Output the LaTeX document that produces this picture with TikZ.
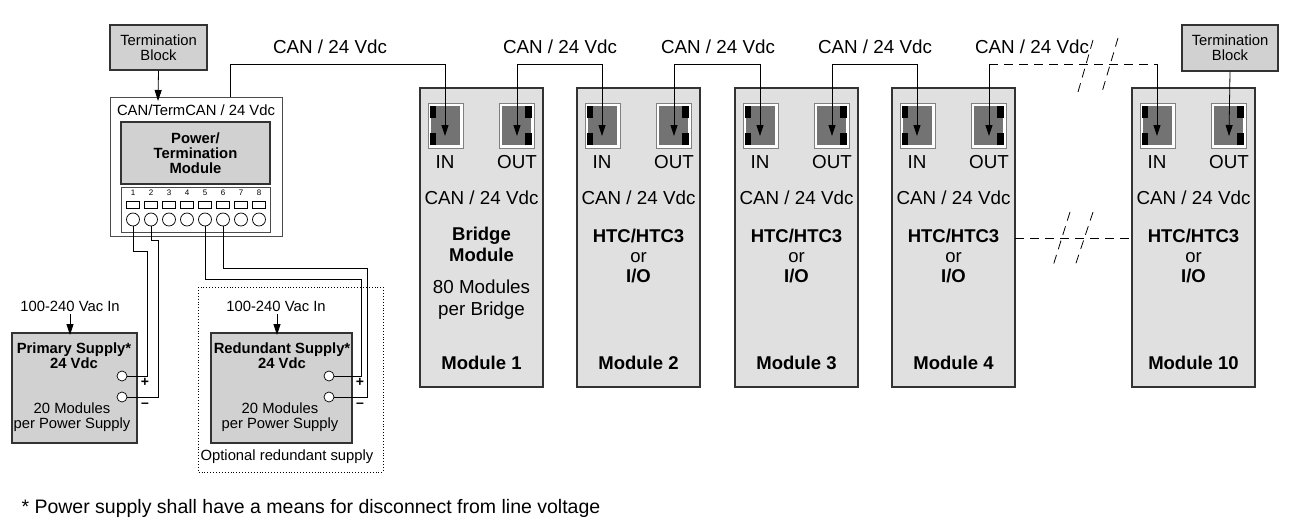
\documentclass[tikz,border=0pt]{standalone}
\usepackage{fontspec}
\setmainfont{Liberation Sans}
\usetikzlibrary{arrows.meta}
\begin{document}
\begin{tikzpicture}[x=1pt,y=-1pt,
  box/.style={draw=black!80,line width=1.2pt,fill=black!18},
  mod/.style={draw=black!80,line width=1.2pt,fill=black!12},
  wire/.style={line width=0.8pt},
  arr/.style={line width=0.8pt,-{Triangle[width=7pt,length=11pt]}},
  big/.style={font=\fontsize{18.8}{22}\selectfont},
  bbig/.style={font=\fontsize{18.5}{22}\bfseries\selectfont,align=center},
  sm/.style={font=\fontsize{14.8}{18}\selectfont,align=center},
  bsm/.style={font=\fontsize{14.8}{18}\bfseries\selectfont,align=center},
  dsh/.style={wire,dash pattern=on 9pt off 6pt}]
\useasboundingbox (0,0) rectangle (1291,525);
% Termination block left
\node[box,minimum width=97,minimum height=45,sm,inner sep=0] (tb1) at (158.5,47.5) {Termination\\[-3pt]Block};
% power module
\draw[line width=1pt,black!70] (110,97) rectangle (282,236);
\node[font=\fontsize{14.8}{16}\selectfont] (ptl) at (196,110) {CAN/TermCAN / 24 Vdc};
\node[box,minimum width=149,minimum height=62,bsm,inner sep=0] (pm) at (195.5,153) {Power/\\[-3pt]Termination\\[-3pt]Module};
\draw[line width=0.8pt,black!70,fill=white] (121,187) rectangle (270,232);
\foreach \i in {1,...,8}{
  \pgfmathsetmacro\xx{133+18*(\i-1)}
  \node[font=\fontsize{8}{9}\selectfont,inner sep=0] at (\xx,193) {\i};
  \draw[line width=0.6pt] (\xx-6.5,201) rectangle (\xx+6.5,208);
  \coordinate (t\i) at (\xx,226);
  \draw[line width=0.7pt] (\xx,219.5) circle (6.5);
}
\draw[arr] (tb1.south) -- (158,101);
% supplies
\node[box,minimum width=125,minimum height=110,inner sep=0] (ps) at (74.5,388) {};
\node[bsm] at (74,356) {Primary Supply*\\[-3pt]24 Vdc};
\node[sm] at (72,417) {20 Modules\\[-3pt]per Power Supply};
\node[box,minimum width=141,minimum height=110,inner sep=0] (rs) at (281.5,388) {};
\node[bsm] at (282,356) {Redundant Supply*\\[-3pt]24 Vdc};
\node[sm] at (280,417) {20 Modules\\[-3pt]per Power Supply};
\draw[line width=0.9pt,dotted] (198,287) rectangle (383,472);
\node[sm] (opt) at (287,457) {Optional redundant supply};
\node[sm] (vin1) at (70,306) {100-240 Vac In};
\node[sm] (vin2) at (276,306) {100-240 Vac In};
\coordinate (a1) at (70,314); \coordinate (a2) at (277,314);
\draw[arr] (a1) -- (70,335);
\draw[arr] (a2) -- (277,335);
\foreach \n/\x/\y in {p1/122/376,p2/122/397,r1/329/376,r2/329/397}{
  \node[circle,draw,fill=white,line width=0.7pt,minimum size=10pt,inner sep=0] (\n) at (\x,\y) {};}
\node[font=\fontsize{14}{14}\bfseries\selectfont] at (145,382) {+};
\node[font=\fontsize{14}{14}\bfseries\selectfont] at (145,405) {--};
\node[font=\fontsize{14}{14}\bfseries\selectfont] at (360,382) {+};
\node[font=\fontsize{14}{14}\bfseries\selectfont] at (360,405) {--};
\draw[wire] (t1) -- (133,251) -- (147,251) -- (147,376) -- (p1.east);
\draw[wire] (t2) -- (151,240) -- (158,240) -- (158,397) -- (p2.east);
\draw[wire] (t5) -- (205,279) -- (361,279) -- (361,376) -- (r1.east);
\draw[wire] (t6) -- (223,268) -- (367,268) -- (367,397) -- (r2.east);
% modules
\foreach \m/\x in {m1/420,m2/577,m3/735,m4/892,m10/1132}{
  \draw[mod] (\x,88) rectangle (\x+123,387);
  \coordinate (\m w) at (\x,238); \coordinate (\m e) at (\x+123,238);
  \draw[line width=0.8pt,black!50,fill=white] (\x+8,103) rectangle (\x+43,148);
  \fill[black!55] (\x+11,106) rectangle (\x+40,145);
  \fill[black] (\x+10,106) rectangle (\x+16,118);
  \fill[black] (\x+10,133) rectangle (\x+16,145);
  \coordinate (\m in) at (\x+25,136);
  \draw[line width=0.8pt,black!50,fill=white] (\x+79,103) rectangle (\x+114,148);
  \fill[black!55] (\x+82,106) rectangle (\x+111,145);
  \fill[black] (\x+105,106) rectangle (\x+112,118);
  \fill[black] (\x+105,133) rectangle (\x+112,145);
  \coordinate (\m out) at (\x+97,136);
  \coordinate (\m ot) at (\x+97,64);
  \coordinate (\m it) at (\x+25,64);
  \node[big] at (\x+25,162) {IN};
  \node[big] at (\x+97,162) {OUT};
  \node[big] at (\x+61.5,198) {CAN / 24 Vdc};
}
\node[bbig] at (481.5,244) {Bridge\\[-1pt]Module};
\node[big,align=center] at (481.5,300) {80 Modules\\[0pt]per Bridge};
\foreach \x/\t in {577/2,735/3,892/4,1132/10}{
  \node[bbig] at (\x+61.5,256) {HTC/HTC3\\[-2pt]{\mdseries or}\\[-2pt]I/O};
  \node[bbig] at (\x+61.5,363) {Module \t};
}
\node[bbig] at (481.5,363) {Module 1};
\foreach \x in {330,560,718,875,1032}{\node[big] at (\x,47) {CAN / 24 Vdc};}
% connectors
\draw[arr] (230,97) -- (230,64) -- (m1it) -- (m1in);
\draw[arr] (m1ot) -- (m1out);
\draw[arr] (m1ot) -- (m2it) -- (m2in);
\draw[arr] (m2ot) -- (m2out);
\draw[arr] (m2ot) -- (m3it) -- (m3in);
\draw[arr] (m3ot) -- (m3out);
\draw[arr] (m3ot) -- (m4it) -- (m4in);
\draw[arr] (m4ot) -- (m4out);
\draw[dsh] (m4ot) -- (m10it);
\draw[arr] (m10it) -- (m10in);
\draw[dsh] (m4e) -- (m10w);
\draw[dsh] (1093,40) -- (1078,92);
\draw[dsh] (1118,38) -- (1102,92);
\draw[dsh] (1070,212) -- (1053,266);
\draw[dsh] (1093,212) -- (1075,266);
\node[box,minimum width=96,minimum height=46,sm,inner sep=0] (tb2) at (1230,48) {Termination\\[-3pt]Block};
\draw[arr] (tb2.south) -- (m10out);
\node[big,anchor=west,font=\fontsize{19.5}{22}\selectfont] (fn) at (18,508) {* Power supply shall have a means for disconnect from line voltage};
\end{tikzpicture}
\end{document}
